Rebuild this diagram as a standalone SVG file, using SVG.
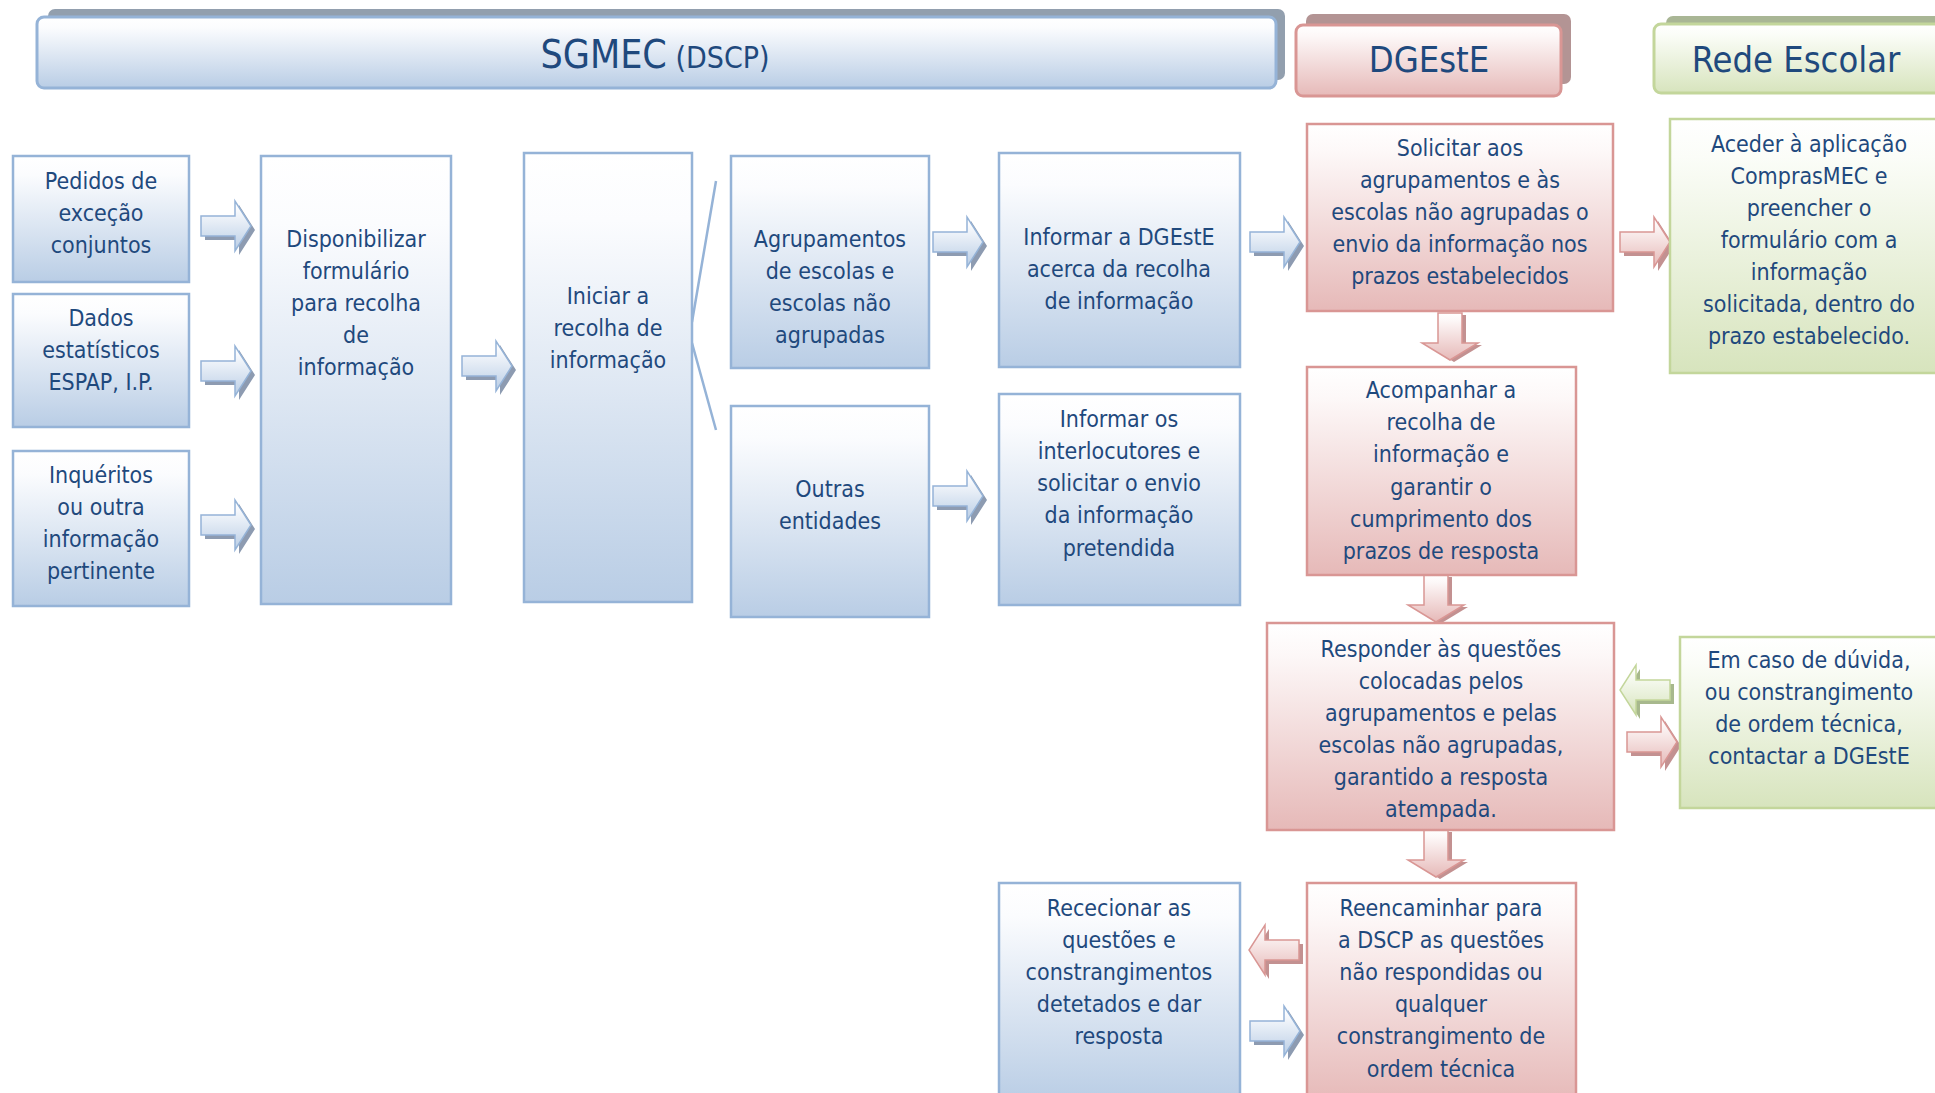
<svg xmlns="http://www.w3.org/2000/svg" xmlns:xlink="http://www.w3.org/1999/xlink" width="1935" height="1093" viewBox="0 0 1935 1093">
<style>
text{font-family:"DejaVu Sans Condensed","DejaVu Sans",sans-serif;font-stretch:condensed;font-size:23px;fill:#1f497d;text-anchor:middle}
.hd{font-size:36px}
.bb{fill:url(#gB);stroke:#95b3d7;stroke-width:2.5}
.br{fill:url(#gR);stroke:#d99694;stroke-width:2.5}
.bg{fill:url(#gG);stroke:#c3d69b;stroke-width:2.5}
.hb{fill:url(#gB);stroke:#95b3d7;stroke-width:3}
.hr{fill:url(#gR);stroke:#d99694;stroke-width:3}
.hg{fill:url(#gG);stroke:#c3d69b;stroke-width:3}
.ab{fill:url(#gB);stroke:#95b3d7;stroke-width:1.5}
.ar{fill:url(#gR);stroke:#d99694;stroke-width:1.5}
.ag{fill:url(#gG);stroke:#c3d69b;stroke-width:1.5}
.sb{fill:#8d9bb1}
.sr{fill:#c39191}
.sg{fill:#a7b88d}
.ln{stroke:#95b3d7;stroke-width:2.5;fill:none}
</style>
<defs>
<linearGradient id="gB" x1="0" y1="0" x2="0" y2="1"><stop offset="0" stop-color="#ffffff"/><stop offset="0.15" stop-color="#fbfcfe"/><stop offset="1" stop-color="#b9cde5"/></linearGradient>
<linearGradient id="gR" x1="0" y1="0" x2="0" y2="1"><stop offset="0" stop-color="#ffffff"/><stop offset="0.15" stop-color="#fdf8f8"/><stop offset="1" stop-color="#e6b9b8"/></linearGradient>
<linearGradient id="gG" x1="0" y1="0" x2="0" y2="1"><stop offset="0" stop-color="#ffffff"/><stop offset="0.15" stop-color="#fbfdf8"/><stop offset="1" stop-color="#d7e4bd"/></linearGradient>
<path id="aR" d="M0,-10 H34 V-25 L50,0 L34,25 V10 H0 Z"/>
<path id="aL" d="M50,-10 H16 V-25 L0,0 L16,25 V10 H50 Z"/>
<path id="aD" d="M-12,0 V30 H-28 L0,47 L28,30 H12 V0 Z"/>
</defs>

<g id="header-sgmec">
<rect x="48" y="9" width="1237" height="71" rx="7" fill="#929fae"/>
<rect class="hb" x="37" y="17" width="1239" height="71" rx="7"/>
<text x="655" y="68"><tspan font-size="39">SGMEC</tspan><tspan font-size="30"> (DSCP)</tspan></text>
</g>
<g id="header-dgeste">
<rect x="1306" y="14" width="265" height="70" rx="7" fill="#b39494"/>
<rect class="hr" x="1296" y="25" width="265" height="71" rx="7"/>
<text class="hd" x="1429" y="72">DGEstE</text>
</g>
<g id="header-rede">
<rect x="1666" y="16" width="290" height="68" rx="7" fill="#a9b695"/>
<rect class="hg" x="1654" y="24" width="300" height="69" rx="7"/>
<text class="hd" x="1796" y="72">Rede Escolar</text>
</g>

<g id="connectors">
<path class="ln" d="M716,181 L692,322 M692,343 L716,430"/>
<use href="#aR" class="sb" x="205" y="230"/><use href="#aR" class="ab" x="201" y="226"/>
<use href="#aR" class="sb" x="205" y="375"/><use href="#aR" class="ab" x="201" y="371"/>
<use href="#aR" class="sb" x="205" y="529"/><use href="#aR" class="ab" x="201" y="525"/>
<use href="#aR" class="sb" x="466" y="370"/><use href="#aR" class="ab" x="462" y="366"/>
<use href="#aR" class="sb" x="937" y="246"/><use href="#aR" class="ab" x="933" y="242"/>
<use href="#aR" class="sb" x="937" y="500"/><use href="#aR" class="ab" x="933" y="496"/>
<use href="#aR" class="sb" x="1254" y="246"/><use href="#aR" class="ab" x="1250" y="242"/>
<use href="#aR" class="sb" x="1254" y="1035"/><use href="#aR" class="ab" x="1250" y="1031"/>
<use href="#aR" class="sr" x="1624" y="246"/><use href="#aR" class="ar" x="1620" y="242"/>
<use href="#aR" class="sr" x="1631" y="746"/><use href="#aR" class="ar" x="1627" y="742"/>
<use href="#aL" class="sr" x="1253" y="954"/><use href="#aL" class="ar" x="1249" y="950"/>
<use href="#aL" class="sg" x="1624" y="694"/><use href="#aL" class="ag" x="1620" y="690"/>
<use href="#aD" class="sr" x="1454" y="315"/><use href="#aD" class="ar" x="1450" y="313"/>
<use href="#aD" class="sr" x="1440" y="577"/><use href="#aD" class="ar" x="1436" y="575"/>
<use href="#aD" class="sr" x="1440" y="832"/><use href="#aD" class="ar" x="1436" y="830"/>
</g>

<g id="n-pedidos"><rect class="bb" x="13" y="156" width="176" height="126"/>
<text x="101" y="189">Pedidos de</text><text x="101" y="221">exceção</text><text x="101" y="253">conjuntos</text></g>
<g id="n-dados"><rect class="bb" x="13" y="294" width="176" height="133"/>
<text x="101" y="326">Dados</text><text x="101" y="358">estatísticos</text><text x="101" y="390">ESPAP, I.P.</text></g>
<g id="n-inqueritos"><rect class="bb" x="13" y="451" width="176" height="155"/>
<text x="101" y="483">Inquéritos</text><text x="101" y="515">ou outra</text><text x="101" y="547">informação</text><text x="101" y="579">pertinente</text></g>
<g id="n-disponibilizar"><rect class="bb" x="261" y="156" width="190" height="448"/>
<text x="356" y="247">Disponibilizar</text><text x="356" y="279">formulário</text><text x="356" y="311">para recolha</text><text x="356" y="343">de</text><text x="356" y="375">informação</text></g>
<g id="n-iniciar"><rect class="bb" x="524" y="153" width="168" height="449"/>
<text x="608" y="304">Iniciar a</text><text x="608" y="336">recolha de</text><text x="608" y="368">informação</text></g>
<g id="n-agrupamentos"><rect class="bb" x="731" y="156" width="198" height="212"/>
<text x="830" y="247">Agrupamentos</text><text x="830" y="279">de escolas e</text><text x="830" y="311">escolas não</text><text x="830" y="343">agrupadas</text></g>
<g id="n-outras"><rect class="bb" x="731" y="406" width="198" height="211"/>
<text x="830" y="497">Outras</text><text x="830" y="529">entidades</text></g>
<g id="n-informar-dgeste"><rect class="bb" x="999" y="153" width="241" height="214"/>
<text x="1119" y="245">Informar a DGEstE</text><text x="1119" y="277">acerca da recolha</text><text x="1119" y="309">de informação</text></g>
<g id="n-informar-interlocutores"><rect class="bb" x="999" y="394" width="241" height="211"/>
<text x="1119" y="427">Informar os</text><text x="1119" y="459">interlocutores e</text><text x="1119" y="491">solicitar o envio</text><text x="1119" y="523">da informação</text><text x="1119" y="556">pretendida</text></g>
<g id="n-rececionar"><rect class="bb" x="999" y="883" width="241" height="220"/>
<text x="1119" y="916">Rececionar as</text><text x="1119" y="948">questões e</text><text x="1119" y="980">constrangimentos</text><text x="1119" y="1012">detetados e dar</text><text x="1119" y="1044">resposta</text></g>

<g id="n-solicitar"><rect class="br" x="1307" y="124" width="306" height="187"/>
<text x="1460" y="156">Solicitar aos</text><text x="1460" y="188">agrupamentos e às</text><text x="1460" y="220">escolas não agrupadas o</text><text x="1460" y="252">envio da informação nos</text><text x="1460" y="284">prazos estabelecidos</text></g>
<g id="n-acompanhar"><rect class="br" x="1307" y="367" width="269" height="208"/>
<text x="1441" y="398">Acompanhar a</text><text x="1441" y="430">recolha de</text><text x="1441" y="462">informação e</text><text x="1441" y="495">garantir o</text><text x="1441" y="527">cumprimento dos</text><text x="1441" y="559">prazos de resposta</text></g>
<g id="n-responder"><rect class="br" x="1267" y="623" width="347" height="207"/>
<text x="1441" y="657">Responder às questões</text><text x="1441" y="689">colocadas pelos</text><text x="1441" y="721">agrupamentos e pelas</text><text x="1441" y="753">escolas não agrupadas,</text><text x="1441" y="785">garantido a resposta</text><text x="1441" y="817">atempada.</text></g>
<g id="n-reencaminhar"><rect class="br" x="1307" y="883" width="269" height="220"/>
<text x="1441" y="916">Reencaminhar para</text><text x="1441" y="948">a DSCP as questões</text><text x="1441" y="980">não respondidas ou</text><text x="1441" y="1012">qualquer</text><text x="1441" y="1044">constrangimento de</text><text x="1441" y="1077">ordem técnica</text></g>

<g id="n-aceder"><rect class="bg" x="1670" y="119" width="280" height="254"/>
<text x="1809" y="152">Aceder à aplicação</text><text x="1809" y="184">ComprasMEC e</text><text x="1809" y="216">preencher o</text><text x="1809" y="248">formulário com a</text><text x="1809" y="280">informação</text><text x="1809" y="312">solicitada, dentro do</text><text x="1809" y="344">prazo estabelecido.</text></g>
<g id="n-em-caso"><rect class="bg" x="1680" y="637" width="270" height="171"/>
<text x="1809" y="668">Em caso de dúvida,</text><text x="1809" y="700">ou constrangimento</text><text x="1809" y="732">de ordem técnica,</text><text x="1809" y="764">contactar a DGEstE</text></g>
</svg>
